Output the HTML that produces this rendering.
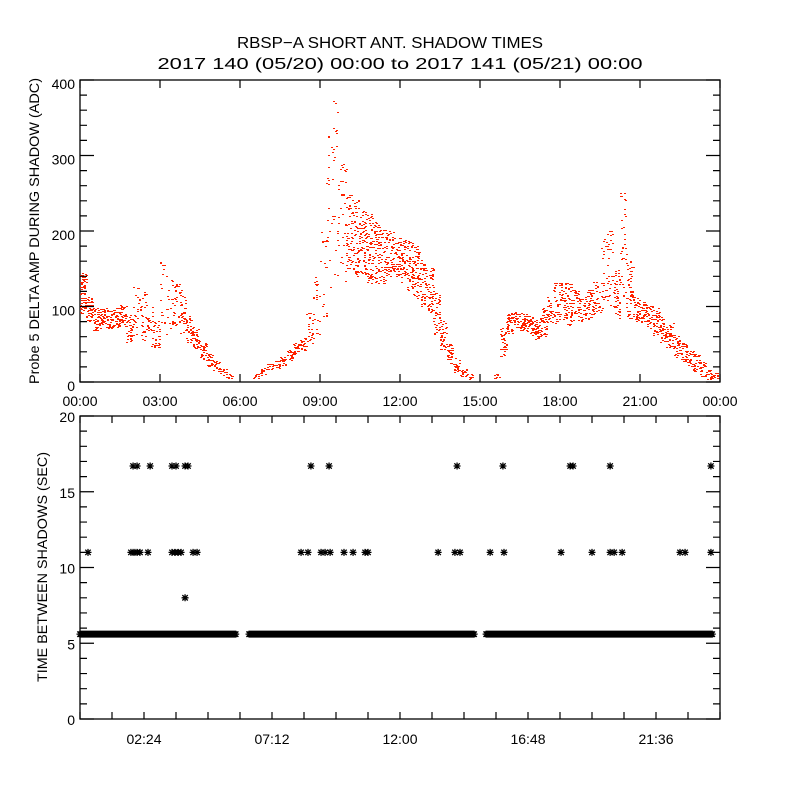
<!DOCTYPE html>
<html><head><meta charset="utf-8"><style>
html,body{margin:0;padding:0;background:#fff}
svg{display:block}
text{font-family:"Liberation Sans",sans-serif;fill:#000}
</style></head><body>
<svg id="chart" width="800" height="800" viewBox="0 0 800 800" xmlns="http://www.w3.org/2000/svg">
<rect x="0" y="0" width="800" height="800" fill="#fff"/>
<text x="390" y="48" font-size="16" text-anchor="middle" textLength="306" lengthAdjust="spacingAndGlyphs">RBSP−A SHORT ANT. SHADOW TIMES</text>
<text x="400" y="69" font-size="16" text-anchor="middle" textLength="485" lengthAdjust="spacingAndGlyphs">2017 140 (05/20) 00:00 to 2017 141 (05/21) 00:00</text>
<g id="topPanel"></g>
<g id="botPanel"></g>
<text transform="translate(39,231) rotate(-90)" font-size="14" text-anchor="middle" textLength="306" lengthAdjust="spacingAndGlyphs">Probe 5 DELTA AMP DURING SHADOW (ADC)</text>
<text transform="translate(47,567) rotate(-90)" font-size="14" text-anchor="middle" textLength="230" lengthAdjust="spacingAndGlyphs">TIME BETWEEN SHADOWS (SEC)</text>
</svg>
<script>
// ---- top panel data: time bins (hours), low/high envelope (ADC), fill density ----
const binHours = [0,0.25,0.5,0.75,1,1.25,1.5,1.75,2,2.25,2.5,2.75,3,3.25,3.5,3.75,4,4.25,4.5,4.75,5,5.25,5.5,
 6.5,6.75,7,7.25,7.5,7.75,8,8.25,8.5,8.75,9,9.25,9.5,9.75,10,10.25,10.5,10.75,11,11.25,11.5,11.75,12,12.25,12.5,12.75,13,13.25,13.5,13.75,14,14.25,14.5,
 15.5,15.75,16,16.25,16.5,16.75,17,17.25,17.5,17.75,18,18.25,18.5,18.75,19,19.25,19.5,19.75,20,20.25,20.5,20.75,21,21.25,21.5,21.75,22,22.25,22.5,22.75,23,23.25,23.5,23.75];
const binLow  = [90,80,68,70,70,72,72,52,60,52,45,45,60,70,70,62,52,42,28,18,12,8,4,
 4,8,15,18,22,28,35,40,48,62,80,100,110,130,150,140,140,130,130,130,140,140,130,120,110,100,90,62,42,22,12,6,3,
 3,32,62,70,66,62,56,60,72,78,80,72,80,80,80,90,92,100,82,110,82,80,76,70,62,52,46,32,26,20,12,6,3,2];
const binHigh = [145,112,98,98,95,98,102,88,130,120,100,82,160,140,130,122,88,72,52,38,28,18,10,
 10,18,25,28,33,42,52,58,92,150,200,330,400,300,250,240,230,222,212,202,200,192,192,186,180,162,152,122,82,52,32,17,10,
 10,72,92,92,92,87,82,97,112,132,132,132,122,112,122,132,200,200,152,252,162,112,107,102,97,87,77,62,52,42,37,27,17,12];
const binFill = [0.8,0.8,0.9,0.9,0.9,0.9,0.8,0.6,0.2,0.25,0.3,0.5,0.12,0.18,0.3,0.45,0.6,0.7,0.8,0.8,0.8,0.8,0.8,
 0.8,0.9,0.9,0.9,0.9,0.9,0.8,0.7,0.35,0.15,0.1,0.06,0.05,0.12,0.35,0.4,0.4,0.45,0.45,0.45,0.45,0.5,0.5,0.5,0.5,0.5,0.5,0.5,0.6,0.7,0.8,0.8,0.8,
 0.8,0.5,0.8,0.9,0.9,0.9,0.9,0.7,0.5,0.4,0.45,0.4,0.5,0.55,0.5,0.45,0.15,0.2,0.4,0.15,0.35,0.7,0.7,0.7,0.7,0.7,0.7,0.7,0.7,0.7,0.7,0.7,0.7,0.7];
// ---- bottom panel data ----
const bandSegStart = [0.0, 6.34, 15.23];
const bandSegEnd   = [5.85, 14.78, 23.74];
const bandValue = 5.6;
const hours11 = [0.30,1.91,1.99,2.06,2.14,2.25,2.55,3.45,3.56,3.68,3.79,4.24,4.39,8.29,8.55,9.04,9.19,9.38,9.90,10.24,10.69,10.80,13.43,14.06,14.25,15.38,15.90,18.04,19.20,19.88,20.03,20.33,22.50,22.69,23.66];
const hours167 = [1.99,2.14,2.63,3.45,3.60,3.94,4.05,8.66,9.34,14.14,15.86,18.38,18.49,19.88,23.66];
const hours8 = [3.94];
const topXTicks = ["00:00","03:00","06:00","09:00","12:00","15:00","18:00","21:00","00:00"];
const topYTicks = [0,100,200,300,400];
const botXTickLabels = ["02:24","07:12","12:00","16:48","21:36"];
const botYTicks = [0,5,10,15,20];

const NS="http://www.w3.org/2000/svg";
const L=80,R=720,T1=80,B1=382,T2=416,B2=719;
const xT=h=>L+(R-L)*h/24;
const yT=v=>B1-(B1-T1)*v/400;
const yB=v=>B2-(B2-T2)*v/20;
function mk(tag,attrs,parent){const e=document.createElementNS(NS,tag);for(const k in attrs)e.setAttribute(k,attrs[k]);parent.appendChild(e);return e;}
let rs=123456789;
function rnd(){rs^=rs<<13;rs>>>=0;rs^=rs>>>17;rs^=rs<<5;rs>>>=0;return rs/4294967296;}

const topG=document.getElementById('topPanel'), botG=document.getElementById('botPanel');
const f1=mk('rect',{x:L,y:T1,width:R-L,height:B1-T1,fill:'none',stroke:'#000','stroke-width':1.3},topG);


let d='';
for(let b=0;b<binHours.length;b++){
  const h0=binHours[b],h1=h0+0.25;
  const x0=xT(h0),x1=xT(h1),ya=yT(binHigh[b]),yb=yT(binLow[b]);
  const area=(x1-x0)*(yb-ya);
  const n=Math.round(binFill[b]*area/3.2);
  for(let k=0;k<n;k++){
    const px=Math.floor(x0+rnd()*(x1-x0));
    const py=Math.floor(ya+rnd()*(yb-ya));
    d+=`M${px},${py}h2v1h-2z`;
  }
}
const dots=mk('path',{d:d,fill:'#ff2200'},topG);


let tk='';
for(let i=0;i<=8;i++){const x=xT(i*3);tk+=`M${x},${B1}v-8M${x},${T1}v8`;}
for(let v=0;v<=400;v+=20){const y=yT(v);const len=v%100===0?14:7;tk+=`M${L},${y}h${len}M${R},${y}h-${len}`;}
const tt=mk('path',{d:tk,stroke:'#000','stroke-width':1.2,fill:'none'},topG);


topXTicks.forEach((s,i)=>{const t=mk('text',{x:xT(i*3),y:406,'font-size':14,'text-anchor':'middle'},topG);t.textContent=s;

});
topYTicks.forEach(v=>{const t=mk('text',{x:75,y:yT(v)+9,'font-size':14,'text-anchor':'end'},topG);t.textContent=v;

});

const f2=mk('rect',{x:L,y:T2,width:R-L,height:B2-T2,fill:'none',stroke:'#000','stroke-width':1.3},botG);


function star(h,v){const x=xT(h),y=yB(v),r=3.5;return `M${x-r},${y}h${2*r}M${x},${y-r}v${2*r}M${x-r+0.8},${y-r+0.8}L${x+r-0.8},${y+r-0.8}M${x-r+0.8},${y+r-0.8}L${x+r-0.8},${y-r+0.8}`;}
let bd='';
for(let s=0;s<bandSegStart.length;s++){for(let h=bandSegStart[s];h<=bandSegEnd[s];h+=0.04){bd+=star(h,bandValue);}}
const band=mk('path',{d:bd,stroke:'#000','stroke-width':1.3,fill:'none'},botG);


[[hours11,11,'interval-11s-points'],[hours167,16.7,'interval-16-7s-points'],[hours8,8,'interval-8s-points']].forEach(([arr,v,nm])=>{
  let p='';arr.forEach(h=>p+=star(h,v));
  const e=mk('path',{d:p,stroke:'#000','stroke-width':1.3,fill:'none'},botG);
  
  
});
let bk='';
for(let i=0;i<=20;i++){const x=xT(i*1.2);bk+=`M${x},${B2}v-7M${x},${T2}v7`;}
for(let v=0;v<=20;v++){const y=yB(v);const len=v%5===0?14:7;bk+=`M${L},${y}h${len}M${R},${y}h-${len}`;}
const bt=mk('path',{d:bk,stroke:'#000','stroke-width':1.2,fill:'none'},botG);


botXTickLabels.forEach((s,i)=>{const t=mk('text',{x:xT(2.4+i*4.8),y:744,'font-size':14,'text-anchor':'middle'},botG);t.textContent=s;

});
botYTicks.forEach(v=>{const t=mk('text',{x:75,y:yB(v)+6,'font-size':14,'text-anchor':'end'},botG);t.textContent=v;

});
</script>
</body></html>
